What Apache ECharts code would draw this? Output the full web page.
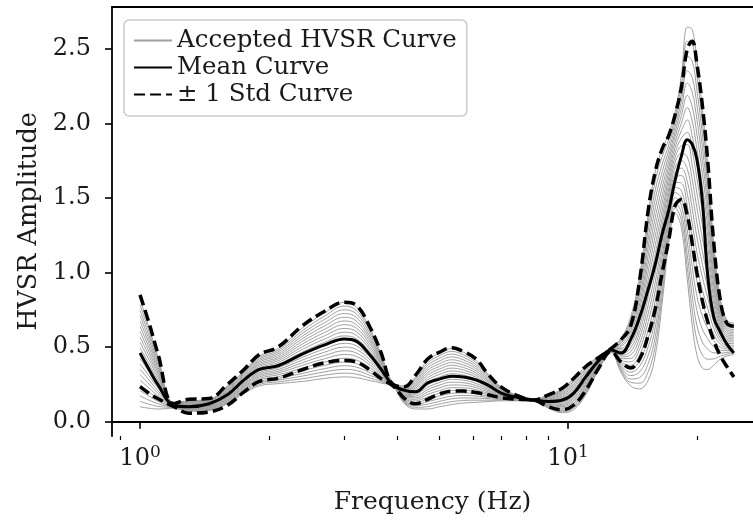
<!DOCTYPE html>
<html>
<head>
<meta charset="utf-8">
<script src="https://cdn.jsdelivr.net/npm/echarts@6/dist/echarts.min.js"></script>
<style>
  html, body { margin: 0; padding: 0; background: #ffffff; }
  #chart { width: 753px; height: 521px; }
</style>
</head>
<body>
<div id="chart"></div>
<script>
// Frequency samples (Hz) shared by every curve
const frequencies = [1.0, 1.05, 1.1, 1.2, 1.3, 1.45, 1.6, 1.75, 1.9, 2.1, 2.4, 2.7, 3.0, 3.2, 3.45, 3.65, 3.9, 4.15, 4.4, 4.7,
  5.0, 5.35, 5.7, 6.1, 6.5, 7.0, 7.7, 8.3, 9.0, 9.7, 10.3, 11.0, 11.8, 12.6, 13.3, 14.0, 14.7, 15.4, 16.0, 16.6,
  17.2, 17.8, 18.4, 19.0, 19.5, 20.0, 20.6, 21.2, 21.9, 22.7, 23.5, 24.4];

// Individual accepted HVSR curves
const acceptedCurves = [
  [0.100,0.090,0.085,0.090,0.070,0.075,0.120,0.190,0.240,0.255,0.270,0.290,0.300,0.295,0.275,0.260,0.235,0.120,0.085,0.085,0.100,0.115,0.125,0.130,0.135,0.140,0.140,0.140,0.090,0.060,0.080,0.180,0.350,0.465,0.330,0.240,0.220,0.280,0.450,0.800,1.200,1.400,1.300,0.950,0.650,0.450,0.360,0.350,0.380,0.420,0.440,0.450],
  [0.136,0.117,0.103,0.092,0.074,0.079,0.126,0.198,0.250,0.267,0.288,0.312,0.325,0.319,0.292,0.270,0.236,0.126,0.096,0.101,0.118,0.134,0.142,0.144,0.144,0.145,0.142,0.141,0.095,0.068,0.091,0.190,0.355,0.467,0.342,0.263,0.258,0.336,0.512,0.852,1.237,1.434,1.350,1.033,0.748,0.549,0.447,0.419,0.421,0.440,0.452,0.461],
  [0.172,0.144,0.121,0.094,0.077,0.083,0.132,0.205,0.260,0.279,0.306,0.334,0.350,0.343,0.310,0.280,0.238,0.132,0.107,0.118,0.136,0.153,0.159,0.158,0.154,0.149,0.143,0.141,0.099,0.076,0.101,0.199,0.359,0.468,0.353,0.286,0.296,0.392,0.573,0.903,1.273,1.468,1.400,1.115,0.845,0.647,0.534,0.487,0.462,0.460,0.464,0.471],
  [0.208,0.171,0.138,0.096,0.081,0.086,0.138,0.213,0.270,0.290,0.324,0.356,0.375,0.366,0.327,0.290,0.239,0.138,0.117,0.134,0.154,0.171,0.176,0.172,0.163,0.154,0.145,0.142,0.104,0.084,0.112,0.209,0.364,0.470,0.365,0.309,0.334,0.448,0.635,0.955,1.310,1.502,1.450,1.198,0.943,0.746,0.621,0.556,0.503,0.480,0.476,0.482],
  [0.244,0.198,0.156,0.098,0.084,0.090,0.144,0.220,0.280,0.302,0.342,0.378,0.400,0.390,0.344,0.300,0.240,0.144,0.128,0.150,0.172,0.190,0.193,0.186,0.172,0.158,0.146,0.142,0.108,0.092,0.122,0.218,0.368,0.471,0.376,0.332,0.372,0.504,0.696,1.006,1.346,1.536,1.500,1.280,1.040,0.844,0.708,0.624,0.544,0.500,0.488,0.492],
  [0.280,0.225,0.174,0.100,0.088,0.094,0.150,0.228,0.290,0.314,0.360,0.400,0.425,0.414,0.361,0.310,0.241,0.150,0.139,0.166,0.190,0.209,0.210,0.200,0.181,0.163,0.148,0.143,0.113,0.100,0.133,0.228,0.373,0.473,0.388,0.355,0.410,0.560,0.758,1.058,1.383,1.570,1.550,1.363,1.138,0.943,0.795,0.693,0.585,0.520,0.500,0.503],
  [0.316,0.252,0.192,0.102,0.091,0.098,0.156,0.235,0.300,0.326,0.378,0.422,0.450,0.438,0.379,0.320,0.243,0.156,0.150,0.183,0.208,0.228,0.227,0.214,0.191,0.167,0.149,0.143,0.117,0.108,0.143,0.237,0.377,0.474,0.399,0.378,0.448,0.616,0.819,1.109,1.419,1.604,1.600,1.445,1.235,1.041,0.882,0.761,0.626,0.540,0.512,0.513],
  [0.352,0.279,0.209,0.104,0.095,0.101,0.162,0.243,0.310,0.337,0.396,0.444,0.475,0.461,0.396,0.330,0.244,0.162,0.160,0.199,0.226,0.246,0.244,0.228,0.200,0.172,0.151,0.144,0.122,0.116,0.154,0.247,0.382,0.476,0.411,0.401,0.486,0.672,0.881,1.161,1.456,1.638,1.650,1.528,1.333,1.140,0.969,0.830,0.667,0.560,0.524,0.524],
  [0.388,0.306,0.227,0.106,0.098,0.105,0.168,0.250,0.320,0.349,0.414,0.466,0.500,0.485,0.413,0.340,0.245,0.168,0.171,0.215,0.244,0.265,0.261,0.242,0.209,0.176,0.152,0.144,0.126,0.124,0.164,0.256,0.386,0.477,0.422,0.424,0.524,0.728,0.942,1.212,1.492,1.672,1.700,1.610,1.430,1.238,1.056,0.898,0.708,0.580,0.536,0.534],
  [0.424,0.333,0.245,0.108,0.102,0.109,0.174,0.258,0.330,0.361,0.432,0.488,0.525,0.509,0.430,0.350,0.246,0.174,0.182,0.231,0.262,0.284,0.278,0.256,0.218,0.181,0.154,0.145,0.131,0.132,0.175,0.266,0.391,0.479,0.434,0.447,0.562,0.784,1.004,1.264,1.529,1.706,1.750,1.693,1.528,1.337,1.143,0.967,0.749,0.600,0.548,0.545],
  [0.460,0.360,0.263,0.110,0.105,0.113,0.180,0.265,0.340,0.373,0.450,0.510,0.550,0.533,0.448,0.360,0.248,0.180,0.193,0.248,0.280,0.303,0.295,0.270,0.228,0.185,0.155,0.145,0.135,0.140,0.185,0.275,0.395,0.480,0.445,0.470,0.600,0.840,1.065,1.315,1.565,1.740,1.800,1.775,1.625,1.435,1.230,1.035,0.790,0.620,0.560,0.555],
  [0.496,0.387,0.280,0.112,0.109,0.116,0.186,0.273,0.350,0.384,0.468,0.532,0.575,0.556,0.465,0.370,0.249,0.186,0.203,0.264,0.298,0.321,0.312,0.284,0.237,0.190,0.157,0.146,0.140,0.148,0.196,0.285,0.400,0.482,0.457,0.493,0.638,0.896,1.127,1.367,1.602,1.774,1.850,1.858,1.723,1.534,1.317,1.104,0.831,0.640,0.572,0.566],
  [0.532,0.414,0.298,0.114,0.112,0.120,0.192,0.280,0.360,0.396,0.486,0.554,0.600,0.580,0.482,0.380,0.250,0.192,0.214,0.280,0.316,0.340,0.329,0.298,0.246,0.194,0.158,0.146,0.144,0.156,0.206,0.294,0.404,0.483,0.468,0.516,0.676,0.952,1.188,1.418,1.638,1.808,1.900,1.940,1.820,1.632,1.404,1.172,0.872,0.660,0.584,0.576],
  [0.568,0.441,0.316,0.116,0.116,0.124,0.198,0.288,0.370,0.408,0.504,0.576,0.625,0.604,0.499,0.390,0.251,0.198,0.225,0.296,0.334,0.359,0.346,0.312,0.255,0.199,0.160,0.147,0.149,0.164,0.217,0.304,0.409,0.485,0.480,0.539,0.714,1.008,1.250,1.470,1.675,1.842,1.950,2.023,1.918,1.731,1.491,1.241,0.913,0.680,0.596,0.587],
  [0.604,0.468,0.334,0.118,0.119,0.128,0.204,0.295,0.380,0.420,0.522,0.598,0.650,0.628,0.517,0.400,0.253,0.204,0.236,0.313,0.352,0.378,0.363,0.326,0.265,0.203,0.161,0.147,0.153,0.172,0.227,0.313,0.413,0.486,0.491,0.562,0.752,1.064,1.311,1.521,1.711,1.876,2.000,2.105,2.015,1.829,1.578,1.309,0.954,0.700,0.608,0.597],
  [0.640,0.495,0.351,0.120,0.123,0.131,0.210,0.303,0.390,0.431,0.540,0.620,0.675,0.651,0.534,0.410,0.254,0.210,0.246,0.329,0.370,0.396,0.380,0.340,0.274,0.208,0.163,0.148,0.158,0.180,0.238,0.323,0.418,0.488,0.503,0.585,0.790,1.120,1.373,1.573,1.748,1.910,2.050,2.188,2.113,1.928,1.665,1.378,0.995,0.720,0.620,0.608],
  [0.676,0.522,0.369,0.122,0.126,0.135,0.216,0.310,0.400,0.443,0.558,0.642,0.700,0.675,0.551,0.420,0.255,0.216,0.257,0.345,0.388,0.415,0.397,0.354,0.283,0.212,0.164,0.148,0.162,0.188,0.248,0.332,0.422,0.489,0.514,0.608,0.828,1.176,1.434,1.624,1.784,1.944,2.100,2.270,2.210,2.026,1.752,1.446,1.036,0.740,0.632,0.618],
  [0.712,0.549,0.387,0.124,0.130,0.139,0.222,0.318,0.410,0.455,0.576,0.664,0.725,0.699,0.568,0.430,0.256,0.222,0.268,0.361,0.406,0.434,0.414,0.368,0.292,0.217,0.166,0.149,0.167,0.196,0.259,0.342,0.427,0.491,0.526,0.631,0.866,1.232,1.496,1.676,1.821,1.978,2.150,2.353,2.308,2.125,1.839,1.515,1.077,0.760,0.644,0.629],
  [0.748,0.576,0.405,0.126,0.133,0.143,0.228,0.325,0.420,0.467,0.594,0.686,0.750,0.723,0.586,0.440,0.258,0.228,0.279,0.378,0.424,0.453,0.431,0.382,0.302,0.221,0.167,0.149,0.171,0.204,0.269,0.351,0.431,0.492,0.537,0.654,0.904,1.288,1.557,1.727,1.857,2.012,2.200,2.450,2.420,2.223,1.926,1.583,1.118,0.780,0.656,0.639],
  [0.784,0.603,0.423,0.128,0.137,0.146,0.234,0.333,0.430,0.478,0.612,0.708,0.775,0.746,0.603,0.450,0.259,0.234,0.289,0.394,0.442,0.471,0.448,0.396,0.311,0.226,0.169,0.150,0.176,0.212,0.280,0.361,0.436,0.494,0.549,0.677,0.942,1.344,1.619,1.779,1.894,2.046,2.260,2.550,2.540,2.322,2.013,1.652,1.159,0.800,0.668,0.650],
  [0.820,0.630,0.440,0.130,0.140,0.150,0.240,0.340,0.440,0.490,0.630,0.730,0.800,0.770,0.620,0.460,0.260,0.240,0.300,0.410,0.460,0.490,0.465,0.410,0.320,0.230,0.170,0.150,0.180,0.220,0.290,0.370,0.440,0.495,0.560,0.700,0.980,1.400,1.680,1.830,1.930,2.080,2.320,2.645,2.630,2.420,2.100,1.720,1.200,0.820,0.680,0.660]
];

// Mean curve and the +/- one standard deviation curves
const meanCurve = [0.46,0.35,0.25,0.11,0.10,0.12,0.18,0.28,0.35,0.375,0.455,0.515,0.555,0.54,0.445,0.355,0.245,0.21,0.20,0.26,
  0.285,0.305,0.30,0.28,0.245,0.19,0.16,0.145,0.135,0.145,0.19,0.30,0.41,0.48,0.46,0.55,0.70,0.89,1.06,1.26,
  1.42,1.62,1.78,1.89,1.86,1.76,1.48,0.98,0.70,0.60,0.52,0.46];
const upperStd = [0.85,0.66,0.46,0.12,0.15,0.155,0.25,0.35,0.45,0.50,0.645,0.74,0.80,0.78,0.63,0.47,0.25,0.235,0.31,0.42,
  0.465,0.495,0.47,0.42,0.32,0.23,0.17,0.145,0.18,0.225,0.29,0.37,0.43,0.49,0.55,0.64,0.95,1.42,1.68,1.83,
  1.92,2.06,2.24,2.50,2.55,2.40,2.12,1.75,1.20,0.81,0.66,0.64];
const lowerStd = [0.235,0.19,0.155,0.10,0.057,0.065,0.11,0.20,0.27,0.29,0.35,0.395,0.41,0.40,0.345,0.29,0.24,0.155,0.12,0.15,
  0.185,0.205,0.205,0.195,0.18,0.16,0.15,0.145,0.10,0.08,0.11,0.21,0.36,0.47,0.40,0.36,0.42,0.58,0.76,1.00,
  1.22,1.45,1.49,1.38,1.20,1.00,0.81,0.67,0.545,0.44,0.37,0.30];

// Axis tick positions
const yTicks = [0, 0.5, 1.0, 1.5, 2.0, 2.5];
const xMajorTicks = [1, 10];
const xMinorTicks = [0.9, 2, 3, 4, 5, 6, 7, 8, 9, 20];

const FONT = 'DejaVu Serif';
const TEXT = '#1a1a1a';
const X_MIN = 0.86, X_MAX = 27.05;
const SPINE = { color: '#000000', width: 1.8 };

function pairs(values) {
  return frequencies.map((f, i) => [f, values[i]]);
}

const series = acceptedCurves.map(curve => ({
  name: 'Accepted HVSR Curve',
  type: 'line',
  data: pairs(curve),
  symbol: 'none',
  smooth: 0.4,
  silent: true,
  z: 1,
  lineStyle: { color: '#a0a0a0', width: 1 },
  itemStyle: { color: '#a0a0a0' }
}));

series.push({
  name: 'Mean Curve',
  type: 'line',
  data: pairs(meanCurve),
  symbol: 'none',
  smooth: 0.4,
  silent: true,
  z: 3,
  lineStyle: { color: '#000000', width: 3 },
  itemStyle: { color: '#000000' }
});

[upperStd, lowerStd].forEach(curve => {
  series.push({
    name: '± 1 Std Curve',
    type: 'line',
    data: pairs(curve),
    symbol: 'none',
    smooth: 0.4,
    silent: true,
    z: 4,
    lineStyle: { color: '#000000', width: 3.5, type: [11, 5] },
    itemStyle: { color: '#000000' }
  });
});

const chart = echarts.init(document.getElementById('chart'), null, { renderer: 'canvas' });
chart.setOption({
  animation: false,
  backgroundColor: '#ffffff',
  grid: { left: 112, right: 0, top: 7, bottom: 85 },
  legend: {
    orient: 'vertical',
    left: 124, top: 20,
    data: ['Accepted HVSR Curve', 'Mean Curve', '± 1 Std Curve'],
    itemWidth: 38, itemHeight: 14, itemGap: 0,
    padding: [7, 10, 8, 9],
    borderColor: '#cccccc', borderWidth: 1.5, borderRadius: 5,
    backgroundColor: 'rgba(255,255,255,0.8)',
    selectedMode: false,
    itemStyle: { opacity: 0 },
    textStyle: { fontFamily: FONT, fontSize: 24.5, color: TEXT, lineHeight: 27 }
  },
  xAxis: [{
    type: 'log', logBase: 10, min: X_MIN, max: X_MAX,
    position: 'bottom',
    axisLine: { show: true, lineStyle: SPINE },
    splitLine: { show: false },
    axisTick: { show: true, length: 7, customValues: xMajorTicks, lineStyle: { color: '#000', width: 1.6 } },
    axisLabel: {
      customValues: xMajorTicks, margin: 8,
      formatter: v => '{b|10}{e|' + Math.round(Math.log10(v)) + '}',
      rich: {
        b: { fontFamily: FONT, fontSize: 24, color: TEXT },
        e: { fontFamily: FONT, fontSize: 17, color: TEXT, padding: [0, 0, 13, 0] }
      }
    },
    name: 'Frequency (Hz)', nameLocation: 'middle', nameGap: 54,
    nameTextStyle: { fontFamily: FONT, fontSize: 25, color: TEXT }
  }, {
    type: 'log', logBase: 10, min: X_MIN, max: X_MAX,
    position: 'bottom',
    axisLine: { show: false },
    splitLine: { show: false },
    axisTick: { show: true, length: 4, customValues: xMinorTicks, lineStyle: { color: '#000', width: 1.2 } },
    axisLabel: { show: false }
  }, {
    // top spine
    type: 'log', logBase: 10, min: X_MIN, max: X_MAX,
    position: 'top',
    axisLine: { show: true, lineStyle: SPINE },
    splitLine: { show: false },
    axisTick: { show: false },
    axisLabel: { show: false }
  }],
  yAxis: {
    type: 'value', min: -0.096, max: 2.78,
    axisLine: { show: true, lineStyle: SPINE },
    splitLine: { show: false },
    axisTick: { show: true, length: 7, customValues: yTicks, lineStyle: { color: '#000', width: 1.6 } },
    axisLabel: {
      customValues: yTicks, margin: 21,
      formatter: v => v.toFixed(1),
      fontFamily: FONT, fontSize: 24, color: TEXT
    },
    name: 'HVSR Amplitude', nameLocation: 'middle', nameGap: 70,
    nameTextStyle: { fontFamily: FONT, fontSize: 25.5, color: TEXT }
  },
  series: series
});
</script>
</body>
</html>
